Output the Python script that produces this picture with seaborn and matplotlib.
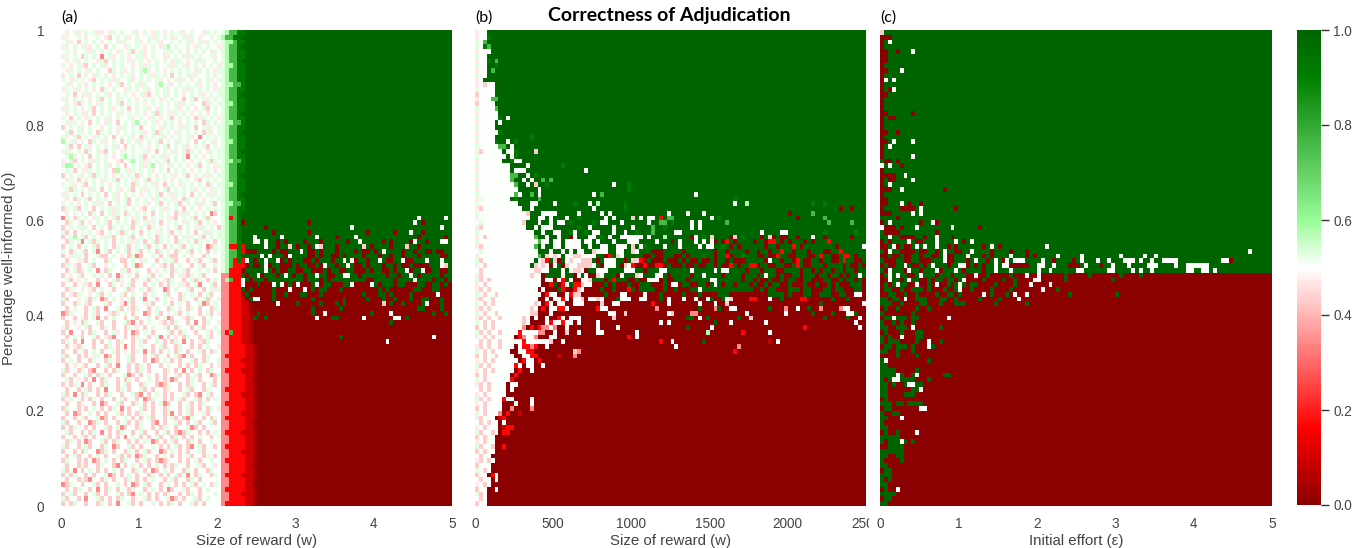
import numpy as np
import matplotlib
matplotlib.use("Agg")
import matplotlib.pyplot as plt
from matplotlib.colors import LinearSegmentedColormap
from matplotlib.transforms import Bbox
import seaborn as sns

# values, one letter per cell, top row first
# a short row carries on with the panel's background (green above split_*, dark red below)
levels = {'D': 0.0, 'd': 0.04, 'e': 0.09, 'R': 0.17, 'q': 0.34, 'P': 0.43, 'p': 0.47, 'w': 0.5,
          'l': 0.53, 'g': 0.58, 'G': 0.76, 'f': 0.92, 'k': 1.0}
split_a, split_b, split_c = 53, 50, 51

a_left = [
    "wpwlpwlwlppwplwlwwlpwlwplwpwlwlpwlwwplwlw", "plwwlwpwwlwpPwlwlpwlwwlplwlwplwlplwpwwlw",
    "wlpwPwlwlwpwlwlplwwlpwlwlpwwlwlwlpwlplwlw", "lpwlwlppwlwPwlwwplwlwpwlwplgwlwwlwplwlwwp",
    "wlwpwwlplwlwlwplwlPwlpwlwwlplwlwpwlwlwplw", "plwlwPlwlwqwlpwlwpwllpwlwwplwlwlplwlwwlpw",
    "wpwlpwlwwplPwlwlwplwlwpwlwlwpllwpwlplwwlw", "lwpwlpPwlwlpwlwlwwpwlplwlwwlplwlpwlwpwlwp",
    "wplwlwplwlwwPlwlpwlwlgpwlwpwlwlwlwplwlwpl", "pwlwPwlwplwlwpwlwlpwlwlplwlwPwlwlplwwlwlw",
    "lwplwlwpPwlwlplwwlpwlwlwlpwlwlplwpwlwlpwl", "wlpwlwpwlwlwpwlPwlwlplwwlgwlpwlwlwlpwlwpw",
    "plwlpwlwpwPlwlwwplwlwlpwlwlpwlwlplwlwlwpl", "wlwPwlplwlwlpwlwlwpwlpPwlwlpwlwpwlwlpwlwl",
    "lpwlwlwpwlPwlwplwlwpwlwlwplwlwwPwlPwlpwlw", "wlwpPlwlwplwlwlPwlwlwpwlwlwpwlplwlwwPplwl",
    "plwlwpwlPwlwlpwlwPwlwlpwplwlwlpwlwpwlPwlw", "wpwlwlpwPwlwlwplwlwlwpwlPlwlplwlwpwlwpwlw",
    "lwPwlwplwlwlpwlwwlpwlwplwpwlPwlwlwPplwlwp", "wlplwlwPwlwplwPwlwlgwlwlpwlwlwpwlwlwPlwlw",
    "PwlwlpwlwwpwlwlplwlwPwwlwplwlwlplwPwlplwl", "wlPwlpwlwPlwlwpwlwlwlpwlPlwlwplwlwlwPlpwl",
    "lpwlPwlwplwlwPwlwlpwPlwlwlpwlwlwlpwqwlwlw", "gwlpwlwPlwlpwlwPwlwlpwlwlPwlwplwlwPwlwlpw",
    "wlPwPwlpwlwlwlpwPwlwlwpwlwlPwlwlpwlwlPwlw", "lplwlwPlwlpPwlwplwlwwlpwPwlwlpwlPlwlwplwl",
    "wlgpwlwPwlwlwpwlgwlwlPwlwlplwlwlqwlwpwlwl", "pwlPwlwlplwlwwpPwlgwlplwlwlPwlwlwpwlwlPlw",
    "lggwlwpPwlwlpwlwPwlwlplgwlwplwlwpwlPwlwpl", "wlwPwlplwlwlwPgwlplwlwlpwlwPwlwlwpwlwlwpw",
    "PwlwlpwlPlwlwpwlwlwPlwlwpwlwlpwlPwlwlplwl", "wplwPwlwlwplwlPwlwlpwlPwlwlwpwlwlwpPwlwlw",
    "lwlpwlPwlwlwpwlwlwPlwlwlpwPwlwplwlwlwPlwl", "wlPlwlwplwPwlwlpwlPwlplwlwlPwlwlwlpwlwplw",
    "plwlwPwlwlwPwlpwlwlwpwlwlPwlplwlwPwlwlplw", "wpwPlwlPwlwlwlpwlPwlwlwplwlwlpwPlwlwpwlwl",
    "lwlwpwlwlplwPwlwlPwlwlpwlPwlwlPwlwlplwlPw", "PlwlPwlwPwlwlplwlwlwpPwlwlplwlwPwlwpwlwlw",
    "wpwlwlwPlwPwlplwPlwlwlwPwlwlwPlplwlwlwqPw", "qlwPlwlwplwlwlPwlwplwPwlwlwlpPwlwlPwlPlww",
    "wPlwlPwpwlwlPwlwlwPlwlplwPwlwlwplwlPwlwpw", "PwlwlplwPwlwPlwlwlPwlwPlwlwpwlPwlwlplwlwP",
    "lPwPwlwlwpPwlwlPlwlwPwlwplwlPwlwlwPwlplwl", "PwlgwlPwlwlplPwlwlPwlwlwPlwlwPwlplwlPwlwl",
    "wPlwlqwlPlwlwPwlwlplwPwlPlwlwPlwlwPlwlwPw", "PwlwPwlwlPwlwPlwlPwlwlPwlwPwlwlPwlwlwqPlw",
    "lwPlwlPwlqwlPwlwlPwlPwlwPlwlwPlwlPwlwPwlw", "PwpllwPwwlPPwlwpwPlqPwwlwPwlPPwlwpwwPlwww",
    "wPwwplPwlwwPlwwPPwlwplwwPwlwlPwwPwlPwwlPw", "PlwpPwwlPwwpwlwwPwlqPwwlwpPwPwlwwPwlPwwlw",
    "wPwlPpwlwqwPlwwplPwlwwPwpwlwPlwlPwwlwlwPw", "PwpwlPwwlwlwPwqpwlwPwwlPwlwwPwlpPlwlPwwww",
    "wlPwpwlwwPwpwlPlwwPlwlPwlwpPlwwPwlPlwPwlw", "PwwPwlpPwqwwPlwpwlPwwPwlwPwPlwlpPwlqwwlPw",
    "wPlwwpwlPwlwwPwwlPpwlwPlwwqPwlwwlPwwPwlpl", "PwpPlwwpwlPwlwwlPwlwwPwlwwlPwwPlwlwPwlPww",
    "lPwwpwlPlwqPwlwpwlPwlqwwPwlwpwPlwwPwlPlwp", "PwwPlwpPwwwlPwwpqlPwwplPwwlwPwlwPwwlqPwlw",
    "wPwlwwPwlPwqwwlPwpPlwwPwlwwPlwpwPlwPwwPlw", "qPlwwwPwlPwwpPlwlwPwwqPwlPwpwlPwlwwPwlPwp",
    "PwwPwlPwlqwPwlwwPwlPwwlwPwlqPwwpPlwwPwlww", "wPwpwPlwwlPwwPwwlPqwPwlwwpPwPlwwPwqwPlwwp",
    "lPwwpwlPwwPlwPwwPlwpwPwlwwlPwPlwwPwlPwwlw", "PwqwwPwPlwwPwlpwPwqPwlwPwwwlPwPlwwPwwlPwl",
    "wPwlwPwwlPwpPqwwPwPlwwPwlqwPwpwPlwwPwlPww", "PlwPwqwwPwPwlwPlwwPwlPwwlwPwPlwqwPwpPlwww",
    "wPwpPlwwPwwPlwPwqwPwlwwPwlPwwPlwwPwPwlwwp", "PwwPwlPwlwPwwlPwpwPlwqwPwPwlwPlwPwwlPwPlw",
    "lPwwPwPwplwqPwPwwlPwwPwlPwwPwlPqwPwwPlwww", "PwlwPwwPlwwPlwPwwlPwwPwqPwlwPwPwwlPwPlwwl",
    "wPwpwlPwwPwlPwqwwPwPlwPwwPwlwwPwPwPlwwPwp", "lPwwPlwPqwwPwPlwwPwPlwPwwwPlwPwqwPwlwPlww",
    "PwwPwwlPwPlwPwwwlqPwPwlwPwPwwlPwPwlPwwqPl", "wlPwpwPwqwPlwwPwPlwPwwlwPwPlqPwwPlwPwwwPw",
    "PwPlwqwPwwPlwwPwlPwwPlwwPqPlwwPwPlwwPwlPw", "wPwwPwlPwPwqwwPlwPwwlPwPwwPlwwPwlPwwPlwww",
    "lPwqwPlwwPwPlwwPwwlPqwPwlwPwPwwlPwPqwlPww", "PwlwwPwPlwPwwPwlPwwPwqPlwwPwPwlPwwlPwPwlw",
    "wPwwPlwwPwqPwwlPwwPlwPwPwlqPwwPwlPwPlwwww", "PlwwPwPwlwPwPlwqwPwwlPwPwwPlwwPwlPwPwPlwp",
    "wPwqPwwlwPwPwwlPwPwPlwwPwwPlqwPwlPwwlPwww", "PwwPwlPwwlqPwPwwlwPwPwlPwwPwlPwPqlwwPwPlw",
    "lPwwPwwqPlwPwwPwlPwPlwwPqwPwwlPwPwlPwwlPw", "PwPlwwPwPwwlPwlqPwwPlwwPwPlwwPwwlqPwPwwww",
    "wlPwwPwPlwqwPwPlwwPwlPwwPwlPwPqPlwwPwPwlw", "PwwPwlPwPwwlPwPwqwlwPwPwlPwwPlwPwPwlwwPwl",
    "wPlwPwqPwwlPwPlwwPwPwlwqPwPwlPwwPlwPwwlww", "lPwwPwlPwwPlwqPwwlPwPwwlwPwPwlPwPqwlPwwPw",
    "PwwPwPlwwqPlwPwwPlwPwlPwwqPwlwPwPwwlPwwww", "wPwlPwwPwlwPwwlPwPwqPlwwPwlwPwPwlPwwPlwPw",
    "PlwwPwPwqPwlwPwPlwwPwlPwPqPlwwPwPwlPwwlww", "wPwwPlPwwPlwwPqwPwlwPwPwlwPwPlwwPwwlPwwpw",
    "lPwqwPwlwPwPwlwPwwPlwPwqPwlwPwwPlwPwwPlww", "PwPlwwPwPwwlqPwPwlwPwwPlwPwPwlPwqwPlwwPlw",
    "wPwwPlPqwwPlwPwwPlwPwPwlwwPwlPwwPlwPwwwww", "qPlwwPwwlPwPwwlwPwqPwlPwwPwlwPwPwlPwlwPlw",
    "wPwPlwwPwqwPlwPwwPlwwPwlwPwqPwwlPwwPwlwww", "PwlPwwPwlPwPwwlPwPqwlwPwPwPlwwPwPlwPwwwlw",
    "lPwwPwqwwlPwPwPlwwPwwlPwPwwlqPwPwwlPwlwww", "PwPlwwPwwPlwPwqwwlPwPwwlwPwPlwPwwlPwPwwww",
]

a_right = [
    "lgGGffk", "lgGGffk", "lggGffk", "lgGGfk", "lgGGffk", "lgGGffk", "lgGGfk", "lggGffk", "lgGGffk", "lgGGffk",
    "lgGGffk", "lggGGfk", "lgGGffk", "lgGGfk", "lgGGffk", "lggGffk", "lgGGffk", "lgGGfk", "lgGGffk", "lggGGfk",
    "lgGGffk", "lgGGfk", "lgGGffk", "lggGffk", "lgGGffk", "lgGGfk", "lgGGffk", "lggGGfk", "lgGGffk", "lgGGffk",
    "lgGGfk", "lgGGffk", "lggGffk", "lgGGffk", "lgGGfk", "lgGGffk", "lggGGfk", "lgGGffk", "lgGGfk",
    "lgRGfkkkkkkkkkkkkkkkkkkkkkkkkkkkkkkkkkkkkkkkkkkkkkwkkkkkkwk",
    "lgGGfDkkkkkkkkkkkkkkkkDkkkkkkkkkkkkkkkkkkkkkkkkkkwkDk",
    "lgGGfkkkkkkDkkkkkkkkkkkkkkkkkkkkkwkkkkkkkkkkkkkkkkkkkkkkwk",
    "lgGGfkkkkkkkkDkkkkkkkkDkkkkkkkkkkkkkkDkkkkkkDkkkwkkDkkkkkk",
    "lgGGfkkkwkkkkkkwkkkkkkkkwkkkkDkkkkwkkkkkkkkkkkkkkkDkkkkkkD",
    "lgGGfkkkwwkwkkDkDkkkkDkkkDkkkkkkDkkwkkkkkDkDkkkkDwkkDkkkww",
    "lgRRfRkkkkkwkkDkkPkDkkDkwPkkkDkkkkkkPkDkkkkDkkkPkkDkkkkkkk",
    "lgGGfRDDDkkkkDkDDkkkwkDDkDkkkDkkkkDkDDkDkwkkkkDkkDkkDDkDDk",
    "lgGGfkkkkkwkwkkkDwkkkkDDkDkkDDkDkkkkDkkkDkkDkkDkkkDkkkkkDD",
    "lgGRfRwkDkkwkkwDkDkkkDDkDkkkDkkwkwDkkDkkwkDDkkwDDkkkwkkkwk",
    "lgGRRRDkDDkwDkkDDDkDkkDDkDwkkDkkwkDDkDkkkDkkDkDDkDDDDkkkwP",
    "lgRRRDkkkkkwkDkDDkkDDkkDDDkDkkDDkkDDDkDkkDDkDkkwDkkwDDkkDD",
    "qqRRRkDkkwDkkkDkwkDkkDkkwkkDDkkwwkkDkkkkkkDkkDkkwkDkkkkkDk",
    "qgGRRwkDkkkDkkkkkkkkkDkkkDkDkkkkkkkkkDDkkkkkDkkkkwkkkkDkkD",
    "qqRRRwDDDkDDDwkwDkDwDDDkwDkkDDDkkwDDDDwkDkkkDkkDDDkkDDkkDk",
    "qqRRRkDkDDDDDkDDDwDDDwDkDkkDDDkDDDDDDDDDkDkDDDDDDkkDDDkkDD",
    "qqRRRDkDDDDDDkDDkDDDkkDDDkDDDDDDDDDDkDDDkkDkDDDDkDDDDDDwDD",
    "qqRRReDkwwDDDkDDDDDDDDDkDDDDDDDkDDDDDkDDDkDDkDDDkDDkkDDDkD",
    "qqRRReeDDDDDDDwDDDDkDDDDDkDDDkDkDDDDDDDDDPDkDDkDDDDkwDDDkD",
    "qqRRReeDDDDDDDDDDDDDDDDkDDDDDDkDDDDDDDDDDDDDDDDDDDkkDDDDkD",
    "qqRRReedDkDDDDDDDDDDDDDkDDwDDDDDDDDDDDkDDDDwDDDDDDDDDDkDDk",
    "qqRRReedkDDkDDDDDDDDDDDDwDDDkkDDDDDDwDDDDDDDwwDkDDDDDDDDD",
    "qqRRReedDDDDDDDDDDDDDDDDDDDDDDDDDDDDDDDDDDDkD",
    "qqRRReed",
    "qRGRReed", "qqRRReedDDDDDDDDDDDDDDDDDDDDDDkDDDDDDDDDDDDDDDDDDDDDDDwD",
    "qqRRReedDDDDDDDDDDDDDDDDDDDDDDDDDDDDDDDDDDwD",
    "qqRRRReed", "qqRRRReed", "qRRRRReed", "qqRRReeed", "qqRRRReed", "qRRRReeed", "qqRRRReed", "qqRRRRee", "qqRRRReed",
    "qRRRRReed", "qqRRReeed", "qqRRRReed", "qRRRRReed", "qqRRRReed", "qqRRReeed", "qRRRRReed", "qqRRRRee", "qqRRRReed",
    "qRRRReeed", "qqRRRReed", "qqRRRReed", "qRRRRReed", "qqRRReeed", "qqRRRReed", "qRRRRReed", "qqRRRRee", "qqRRRReed",
    "qRRRReeed", "qqRRRReed", "qqRRRRee", "qRRRRReed", "qqRRReeed", "qqRRRReed", "qRRRRReed", "qqRRRRee", "qqRRRReed",
    "qRRRReeed", "qqRRRReed", "qqRRRReed", "qRRRRReed", "qqRRReeed", "qqRRRRee", "qRRRRReed",
]

b_rows = [
    "pwwk", "pwwf", "lwG", "lwfGk", "pwwwk", "lwwk", "pwwfkG", "lwwkkf", "pwwkGk", "lwwkk",
    "pwkk", "pwPwwk", "lwwwwk", "Pwwwwk", "pwwwGGk", "Pwwwwk", "lwwwwGk", "pwwwwwk", "lwwwwwfkw", "pwwwwkwk",
    "lwwwwkkkk", "pwwwwwfk", "lwwwwkkkkkkkkkf", "pwwwwfkkwkfk", "lwwwwwGGkwkk", "pPwwwwwkwwfkkkkPk",
    "lwwwwwwwkwfk", "pwwwwwwkkfwwk", "lwwwwwwwwkkkkwkkkkkkkkfk", "pwwwwwwwwkwwwkkkkkkkkkkkkkkkwk",
    "lwwwwwwwwGGkkwkfk", "pwwwwwwwwGkkwkwkkGkG", "lwwwwwwwwwGkkwkPkkfkkkkkkkkkkkkkkkkwkkkfk",
    "pwwwwwwwwwwkkkkkwkkkkkkkkkkkkkkkkkkkkkkfk", "lwwwwwwwwwGwkkGkwkkkkkkkkkkkkkwkGkkkkkkkkkkkkkkkkkkkkkkkwk",
    "plwwwwwwwkfkkkkkGkkkkkkkkkkkkkkkkkkkkkkkkkkkkkkkkkkkkkkkkkkkkkkkkkfk",
    "lwwwwwwwwwwkkkwwkkkkwkkkkfkkkwkgkkkkkkfkkkkkkkkkkkkkkkkkkkkkkkkkkkwkkgkkkkkkkkkkkkkkkkfkkfk",
    "pPwwwwwwwwwwkkwkkkkkkkkkkkkkkkwkkkkkkkfkkkkkkkkkkkkkkkkkkkkkkkkkkkkkkkkkkwkkkkkkkkkkkkkkkkDkkDk",
    "lwwwwwwwwwwwwPkkkwwwwkkkkkwkkkkkwkwkkkkkkkkkkkkkkwkkkkwkkkwkkkkkkkkkkkkkkkkkkDkkkkfk",
    "pwwwwwwwwwwwwwkkwwkwkkkwkkfkkkkkkwkwkkkkPkwkwwkRkGGkkkkkkkkkwkfkkkkkkkkkDkkkkGkkkk",
    "wlwwwwwwwwwwPkkkwkkwkwwkfkkkkkfkwwkkkwkkkkkkwkkGGkfkkkkwkwkkkkkkGkkkkkkkkkfkkkGk",
    "pPwwwwwwwwwwwkkwkwwwkkkkkkfkkwkkkkkwkkkkwkkkkGkkfkkkkkkwkwkkkkkkkkkkkkkkkkkkkk",
    "lwwwwwwwwwwwwwwkkwkkwwkkfwkkfkwwkkkwkkwkkfkkkGkkkkkwwkkkkkkkkkkkkkkkkkkkkkkkk",
    "pwPwwwwwwwwwwwwGkkwkkwkkDwkkkwwkfkwkkwwwwwwkwkkkgkkkkkkDwkfkPkkkkDPkfkkkkwwkkkkfkk",
    "lwwwwwwwwwwwwwwwGwwkwwkwwwwkwwkwkkkwkkkwwwkkkkwkkkDkwkkkwkwkwDkDRkDkkkkDkkkkDkkk",
    "pPwwwwwwwwwwwwwGkwkkwwkwwwwkkwkkwwkkwwwkPkwfkkkkwkkkwkkkkwkwwkkfkDkDkkkkkDkkk",
    "wlwwwwwwwwwwwwwwkkkwkkwkwkwwkkPwwwkkwwkkPwkkkDDDkkkkkDkkkkkkkDkkDkkkkDkkkkDkkkkk",
    "pwwwwwwwwwwwwwwwGkPwPwkwwPPwwwwkkDRkPwkkkkkDDkDDkkkDDkDkkkfkkDkkRDkkfkkkkRDkkkwk",
    "lPwwwwwwwwwwwwwkwPRkPDkwPwwPPPkDkwwwkkDkPPRDkDDDkDDDkDkDDkDDkDkkDkDDDkkkkRkDkDkw",
    "pwPwwwwwwwwwwwkPwPwDwkDPwwPPPPwkDwwwkDPwRDDRDDRRDkDDDkDDkDDkkDkDDRkDkkRRkDDkDk",
    "wPwwwwwwwwwwwwwPPwwkkkwkwPPwDkkwwwkkkkwwwkkDkkkwwkkkkkkwkkkkkwkwwkkkkDkkkkkkkkk",
    "pPwwwwwwwwwwwwPwwDkkkkwkkDwkwDDPwkkkDwkkkPwkkkwwkDkkkkkDkkwkkkkDkkkkDkkkkkkkkk",
    "lPwPwwwwwwwwwwwwwDwwDwRkwDDwwPkkkDkRkkkDDkDDwwwDkDDkkkDkkkkkwwkkkkkkDkkDkkDk",
    "pwPwwwwwwwwwwwwwwDDRkDRwkRRPwwDDDkDkDDDkDDkkkDDDkDwwDkkDDkkDkwkDkkDkkkDkkDDD",
    "pPwPwwwwwwwwwwwwDwDDDkRDDRPwDDDDkDDkDDDRkDkkkkDDkDDkDDDkkwkkkkkkkkkkkkkDkkkwwD",
    "lwPwwPwwwwwwwwwwwDRwwDDwRPPDDDDDDkDDDwwDDDDwDDDkDDDDDkDDDkDDDDkkkDDDDDDDkkDDDkDD",
    "pPwwPwwwwwwwwwwwDDwDwwRwDwwPDwwPwDDDkwwwDDwwDDDkDwDDDwDDwDDwkDDkwPDDDDRRDDDDDDDDw",
    "lwPwPwwwwwwwwwwPwDRwDwwDDwwwDDDDPDDwwDDDDDDDDRDDDwDDDDDDDwDDDwDDPDDDDDDDDDDDDDDkDD",
    "pPwPwwwwwwwwwwPwDRDwwRRwDDDDDDDRwwDDDDDDDDDDDDqDDDDDDDDDDkDDDqkDDwwDDDDDDDwDDDDD",
    "lwPwwPwwwwwwwwPPDDDwDDDDDDDDDDDDDDwwDDPDDDDDDDDDDwPDDDDqqDDDDDDDDDDDDwDDkDD",
    "pPwPwwPwwwwwPwDwDDwDDRwDwwwDDDDDDDDPDDDDDDDDDDDDDDDDDDkkDwDkDDDDDDDkDDPDDwDkD",
    "lwPwPwwwwwwwPwDDDDwRwwRwwDwDDDDwDDDDDDDDDDDDDDDwDwDDDDDDDDDDDkDDDwDDDDDDDDDDkDwD",
    "PwPwPwwwwwwwqDRDRqqwqDDwDDDDDDDwDDDDwDDDDDDDDDDDDDDDDDkDDDDDwDDDDDDDDDDDDDDDwPD",
    "lPwPwwPwwwwRwwwwqqDDwDDPDDwDDDDwwDDDDDDDDwDDDDDDDDDDDDDDDDDgDDDDDDDDRDDDDDDwD",
    "pwPwPwwwwwDRqwwqDDDwwDDDDDDDDDDDDDDDDDDRDwDDDDDDDDDDDDDDDDDDDDDDDDDDDDDDD",
    "wPwPwwPwwwwwRwwwwwwPDDwDDDDDDDDDDDDDDDDDDDDDDDDRDDwDDDDDDDkDDDDDDDDDDDDDDDDeDw",
    "pPwPwwPwwwDwRRqRDDwDDDDDDDDDDDDDDDDDDDDDDDDDDDDDDDDwDDDDDDDDDDDDDDDqDDDDDDDDD",
    "lwPwPwwwwDDwwRRDDDDDDDDDDPqDDDDDDDDDDDDDDDDDDDDDDDDDDDDDDDDDDDDDDDRD",
    "PwPwwPwwwwDDwwRRDDDDDeDDDqDDDDDDDDDDDDDDDDDDDDDDDDDDD",
    "pwPwPwwwwwwDRwwDRDDD", "lPwPwwwwwwRwDwwDDwD", "pwPwPwwwwwDRDDwDD", "PwPwwwwwwDRDDDDDD", "lwPwwwwwwRDDDDDDD",
    "pPwPwwwwDwwDDDD", "wPwPwwwwDwDD", "pwPwwwwwDDD", "lPwPwwwRwwDDDDwD", "pwPwwwwDDDwDDDwD", "PwPwwwwDDqDDDDqD",
    "lwPwwwqDRDDe", "pPwwwDeRD", "wPwPwwDwDD", "pwPwwwDeRRD", "lPwwPwDRRD", "PwPwwDDD", "pwPwwDD", "lPwwPDDR",
    "PwPwwDD", "wPwwDDD", "pPwPwD", "PwwwDDD", "lwPwDD", "PwwDRwD", "wPwwDwD", "pwPwDD", "PwwDDw", "lPwDDD",
    "wPwDDD", "PwwDD", "pPwRDDe", "PwDRDDD", "lPwRDD", "wPwDDD", "PwDDD", "wPwRwDRDDD", "PwwDDD", "wPwDD",
]

# right-hand end of panel b, rows 37 to 62 (last 28 columns)
b_tail_first_row = 37
b_tails = [
    "kkkkkkkkkkkkkkkkkkkkkDkkDkkk", "kkkkkkkkDkkkkkGkkkkkkkkkkkkk", "kkkkkkkkkkDkkkkkkGkkkkkkkkkk",
    "kkkkkkkkkkkkkkkkkkGkkkkkGkkk", "kkkkkkkkkkkkkkkkkkkkkkkkkkkk", "kwkkkkwwkkkkkkkkkfkkkkkkkfkk",
    "kDkPDkDDkkDkkkwkkDkkkkkkDkkk", "kkDRRkDkDkkkDkDkkkRkkkkkkkkk", "kkDkkDkkkRkDkkkkkkkkDkkkkkkw",
    "DkkDkkRkkDkkkDkkkDDkkRkkkkkk", "DDkDDRkkDDkkkDDkRkkDDkRRkDkk", "kkDwkkDkkDRkDDkkDkkDDkRkkDDk",
    "DkkDDkkDDkRkDDkkkDkkkkDkDDkD", "kDkkkDDkkkkDkkDkDkkDkkDkkDkk", "DkwkkDkDDkkDkkkDkkDkkDkDkkwk",
    "kDDkDDkDkkDDkkDDDkkDDkDkkDkD", "DDkDkkDDkDDDkDDkDDkDkDDDkkkD", "DkDkkDDDkkkDkkDDDkkDkkDDDkkD",
    "DDDkkkkDkDDDkkDDkkkDDkkDDwwD", "DDDwDDkDDDDRRDDDDDDkDDDkDDDD", "DDDDDDDDDDDDDDDDkDDDDDDDDDDw",
    "DDDkDDDqDDwDDkDDqDDDDqwwDDDD", "DDDDDDDwDDDDDDkDDDDkDDDwwkDD", "DDDDDDDDDDDDDDDDDkDDDDDkDDwD",
    "DDwDDDDDDDDDDDDDDDDDDDDDDwDD", "DDDDDDDDDDDDRDDDDDDDDDDDDDwD",
]

c_rows = [
    "Pk", "DDDk", "Dkwk", "Dk", "DDkkDkkkw", "DDk", "DDk", "Dk", "DDkkkwk", "Dk", "Dwkwk", "Dk", "DkDwk", "DDk", "Dk",
    "Dk", "Dkkkkk", "DDkkkkkkDk", "DkDDk", "Dk", "Dk", "DDkkDk", "Dk", "DDkwkkkkwk", "Dkwk", "Dk", "Dkkkkkkkwkkkkkk",
    "kDDkDk", "wkwkkDk", "Dk", "DDDDkkwk", "DkDDkkkkwk", "Dkwk", "DDDkkwkkkkkkkkkkDk", "Dk", "DDk",
    "DDkkkwkDkkDk", "DkkkkDDDDkwkkkkkkkkDk", "DDDkkkkkwkwk", "kkkkDk",
    "DkwkkkkkkkDkkwDk", "wDDDkDkkkwkkkkkkkkwkkkkkkDk", "kDDDDkkkkkkkkkDk", "kkwkkDDDDkkDkkwkkkDk",
    "DkDkkkkwkDDkkkwkkkkwkDkwk", "DDkwDkDDkwkwkkwkkDkDkkkkkkDkwkDkkkkkkkkkkkwk",
    "kDwkkDDDDkDDkkDkwkkDDkkwkkkkDkkkkDkkkDkkkkkkkkkkkkkkkkkkkkkkkkkkkkkkkkkkkkkkkkkkkkkkkkkkkkkkkkwk",
    "DDkDDkDDkkDkkDDkwDDkkkwkkkDkDkkkkwkkkDkDkkkkkwkkkkkwkkkkkkkkkwkkkkkwkkwkkkkkkkkkkkkkkkkkk",
    "kDDDkkDDkkDDDkkkwDDkkkDkwkkDkwkDwkwwwkkkkwkkDkkkkDkwkkkwkkwkkkwwwkwkkwkkwwwwkkkkkkkkkkkwwDk",
    "DkDDkkwkDDkDkwkkkDkkwwDkDkDkkwkwwDDDDDkkwwkkwkkkDDDkwkkkDkkwkkkwkkkkwwwkkkkwkkwwwwwwkkk",
    "kDwkkkDwkkDkkkwDkkkwkDkkkkDkkwkkkwkkkkkkwkkwkkkkkkwwkkkkkkwwkkkkwkwkkwkkkkkkkkwwkkwwkwk",
    "DkwkwkkDDkwkkkDkkkDkkkDDwDDkDDDDDkDDDwDDwDDDDDDkDDDDDkDDDDDDDkDDDDkDDDDDDDDDDDDDDDD",
    "DDwkkDkwkkDDkDkkDkkDkwDDDDkDDDDkDDkDDDDwwDDDDDDkDDDDDDDDDDDkDDDDDDDDDDD",
    "DkDkwkkDDwDDkDwDDkDkwkDkkDDDDkDDDDkDDDwDDDDwDD", "DkkDDkDDkkkDkDDDkDDkwDDkDDDDkDDDDkDDDDDDDwDDDkD",
    "DDkkDDkDDkDDDDkDDkkDkDDDDDwDkDDDkDwDDwDDDDDDDDDDkDDDDDDDDDDDkD",
    "kkDkkDwDDkkkDDDkkDDkDDDDDkDDDDkDDDDwDDDDD", "kkkDDkDDDDkkDDDkDDDkkkDDDDDDDkDDDDDDDkD", "DkDDkDDDDkDDkDDDDDDDDDDDDDDDD",
    "kDDDDDDDkDDDDDDDDDDD", "DkkwkkkDkkDDDDDDDwDDD", "kDDkDkDDkDDDDDDDD", "kkDDkkkDwDDDDDDkD", "DkDDDkDDDkkDDDDDDD",
    "kDkDDwDDDkkDDDDDDDDDDD", "kDkkkDDDDkDDwDDkDDD", "DkkDkkkDkDDDwkDDDDDDD", "kkDDkDDDkDDDDDDDDDDDDDDDDD", "DDDDkDDDDkDDDDDDDDDD",
    "kwDDDDDDDDDDkDD", "kkDDDDDDD", "kkkkDDDDDkDDD", "kkkkwkDDkwDDDDDDkkDDDDD", "kDkwwkkkkDDDkD", "kkDkDDkwwkkDDD", "kkDDDDDDkkwDDDD",
    "kkDDDDkkkDDDDD", "DkDDDDDDDD", "kkkDkkDkkkkDDDDDD", "DkkDDDDDDDwwDDD", "kDDkkDDDDDDD", "kkDDDwDDDDD", "kDDDDDDD", "kkDDDDDDDDDD",
    "DkDDkDDDDwDDDDDD", "kkkkkDDDD", "kDkkkwkDkDDD", "DDkkkkDD", "kkkkkkDD", "kkDDkkDDD",
    "kDDDDkD", "kkDD", "DkkD", "kkkD", "kDkD", "kkD", "DkDDwD", "kkkkD", "DkkDD", "kkD", "kkkD", "kDwD", "kD",
]

a_rows = [left + right for left, right in zip(a_left, a_right)]

x_ticks_a = ["0", "1", "2", "3", "4", "5"]
x_ticks_b = ["0", "500", "1000", "1500", "2000", "2500"]
y_ticks = ["1", "0.8", "0.6", "0.4", "0.2", "0"]
cbar_ticks = [0.0, 0.2, 0.4, 0.6, 0.8, 1.0]
titles = ["(a)", "(b)", "(c)"]
x_labels = ["Size of reward (w)", "Size of reward (w)", "Initial effort (\u03b5)"]


def to_matrix(rows, split):
    cells = []
    for i in range(100):
        r = rows[i] if i < len(rows) else rows[-1][:3]
        bg = 'k' if i < split else 'D'
        cells.append([levels[c] for c in r.ljust(100, bg)[:100]])
    return np.array(cells)


def box(left, top, right, bottom):
    return [left / W, 1 - bottom / H, (right - left) / W, (bottom - top) / H]


W, H = 1369, 548
sns.set_theme(style="white")
plt.rcParams['font.family'] = ['Liberation Sans', 'DejaVu Sans']
plt.rcParams['text.color'] = '#444444'

cmap = LinearSegmentedColormap.from_list("adjudication", [
    (0.0, "darkred"), (0.16, "red"), (0.5, "white"), (0.6, "palegreen"), (0.9, "green"), (1.0, "darkgreen")])

b_full = list(b_rows)
for n, tail in enumerate(b_tails):
    i = b_tail_first_row + n
    b_full[i] = b_full[i].ljust(72, 'k' if i < split_b else 'D')[:72] + tail

fig = plt.figure(figsize=(W / 100, H / 100), dpi=100)
ax_a = fig.add_axes(box(61, 30, 452, 506))
ax_b = fig.add_axes(box(475, 30, 866, 506))
ax_c = fig.add_axes(box(880, 30, 1272, 506))
ax_cb = fig.add_axes(box(1297, 30, 1321, 505))

panels = [(ax_a, a_rows, x_ticks_a, split_a), (ax_b, b_full, x_ticks_b, split_b), (ax_c, c_rows, x_ticks_a, split_c)]
for i, (ax, rows, ticks, split) in enumerate(panels):
    last = i == 2
    sns.heatmap(to_matrix(rows, split), cmap=cmap, vmin=0, vmax=1, ax=ax, cbar=last,
                cbar_ax=ax_cb if last else None, xticklabels=False, yticklabels=False)
    ax.set_xticks(np.arange(0, 101, 20))
    ax.set_xticklabels(ticks, rotation=0, fontsize=9.8, color='#444444')
    ax.tick_params(axis='x', length=0, pad=8)
    ax.set_xlabel(x_labels[i], fontsize=10.8, color='#444444', labelpad=2)
    fig.text(ax.get_position().x0, 1 - 18 / H, titles[i], fontsize=11.5, family='Lato', color='black', va='center')

ax_a.set_yticks(np.arange(0, 101, 20))
ax_a.set_yticklabels(y_ticks, rotation=0, fontsize=9.8, color='#444444')
ax_a.tick_params(axis='y', length=0, pad=12)
ax_a.set_ylabel("Percentage well-informed (\u03c1)", fontsize=10.8, color='#444444')
ax_a.yaxis.set_label_coords(-0.115, 0.5)

# the last tick label of panel b is cut off in the original
ax_b.get_xticklabels()[-1].set_clip_box(Bbox([[0, 0], [869, H]]))
ax_b.get_xticklabels()[-1].set_clip_on(True)

ax_cb.set_yticks(cbar_ticks)
ax_cb.set_yticklabels(["0.0", "0.2", "0.4", "0.6", "0.8", "1.0"], fontsize=9.8, color='#444444')
ax_cb.tick_params(axis='y', length=6, width=1, color='#333333', pad=3, right=True)
ax_c.collections[0].colorbar.outline.set_visible(False)

fig.text(669 / W, 1 - 15 / H, "Correctness of Adjudication", fontsize=14, family='Lato', weight='bold',
         color='black', ha='center', va='center')

fig.savefig("out.png", dpi=100)
